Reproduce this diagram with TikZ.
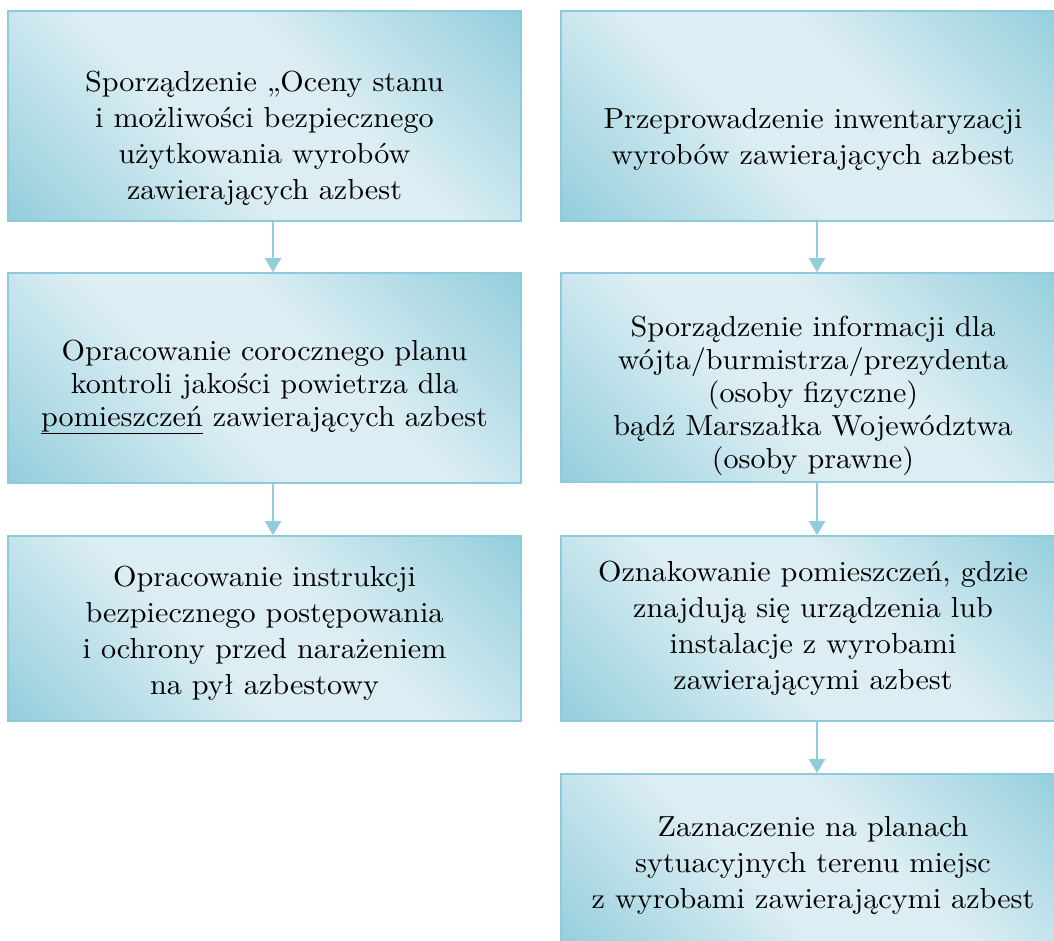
\documentclass[tikz,border=0pt]{standalone}
\usepackage{fontspec}
\setmainfont{lmroman10-regular.otf}[FakeStretch=1.04]
\usetikzlibrary{arrows.meta}
\definecolor{dk}{HTML}{92CDDC}
\definecolor{lt}{HTML}{DCEEF3}
\definecolor{edge}{HTML}{8DCADB}
\pgfdeclarehorizontalshading{diagsh}{100bp}{color(0bp)=(dk); color(14bp)=(dk); color(42bp)=(lt); color(58bp)=(lt); color(86bp)=(dk); color(100bp)=(dk)}
\begin{document}
\begin{tikzpicture}[x=1pt,y=-1pt,
  box/.style={draw=edge, line width=1.6pt, rectangle, inner sep=0pt,
    shading=diagsh, shading angle=45},
  txt/.style={align=center, font=\fontsize{29}{36}\selectfont, inner sep=0pt},
  txtb/.style={align=center, font=\fontsize{29}{33}\selectfont, inner sep=0pt},
  arr/.style={draw=dk, line width=2pt, -{Triangle[width=16pt,length=14pt]}}]
\useasboundingbox (0,0) rectangle (1054,941);
\begin{scope}
\clip (0,0) rectangle (1054,941);
% left column
\node[box, minimum width=513pt, minimum height=210pt] (L1) at (264.5,116) {};
\node[box, minimum width=513pt, minimum height=210pt] (L2) at (264.5,378) {};
\node[box, minimum width=513pt, minimum height=185pt] (L3) at (264.5,628.5) {};
% right column
\node[box, minimum width=504pt, minimum height=210pt] (R1) at (813,116) {};
\node[box, minimum width=504pt, minimum height=209pt] (R2) at (813,377.5) {};
\node[box, minimum width=504pt, minimum height=185pt] (R3) at (813,628.5) {};
\node[box, minimum width=504pt, minimum height=176pt] (R4) at (813,862) {};
\end{scope}
% texts
\node[txt] (tL1) at (264.5,138) {Sporządzenie „Oceny stanu\\i możliwości bezpiecznego\\użytkowania wyrobów\\zawierających azbest};
\node[txtb] (tL2) at (264.5,387) {Opracowanie corocznego planu\\kontroli jakości powietrza dla\\\underline{pomieszczeń} zawierających azbest};
\node[txt] (tL3) at (264.5,633.5) {Opracowanie instrukcji\\bezpiecznego postępowania\\i ochrony przed narażeniem\\na pył azbestowy};
\node[txt] (tR1) at (813,139) {Przeprowadzenie inwentaryzacji\\wyrobów zawierających azbest};
\node[txtb] (tR2) at (813,395.5) {Sporządzenie informacji dla\\wójta/burmistrza/prezydenta\\(osoby fizyczne)\\bądź Marszałka Województwa\\(osoby prawne)};
\node[txt] (tR3) at (813,628) {Oznakowanie pomieszczeń, gdzie\\znajdują się urządzenia lub\\instalacje z wyrobami\\zawierającymi azbest};
\node[txt] (tR4) at (813,865) {Zaznaczenie na planach\\sytuacyjnych terenu miejsc\\z wyrobami zawierającymi azbest};
% arrows
\draw[arr] ([xshift=8.5pt]L1.south) -- ([xshift=8.5pt]L2.north);
\draw[arr] ([xshift=8.5pt]L2.south) -- ([xshift=8.5pt]L3.north);
\draw[arr] ([xshift=4pt]R1.south) -- ([xshift=4pt]R2.north);
\draw[arr] ([xshift=4pt]R2.south) -- ([xshift=4pt]R3.north);
\draw[arr] ([xshift=4pt]R3.south) -- ([xshift=4pt]R4.north);
\end{tikzpicture}
\end{document}
